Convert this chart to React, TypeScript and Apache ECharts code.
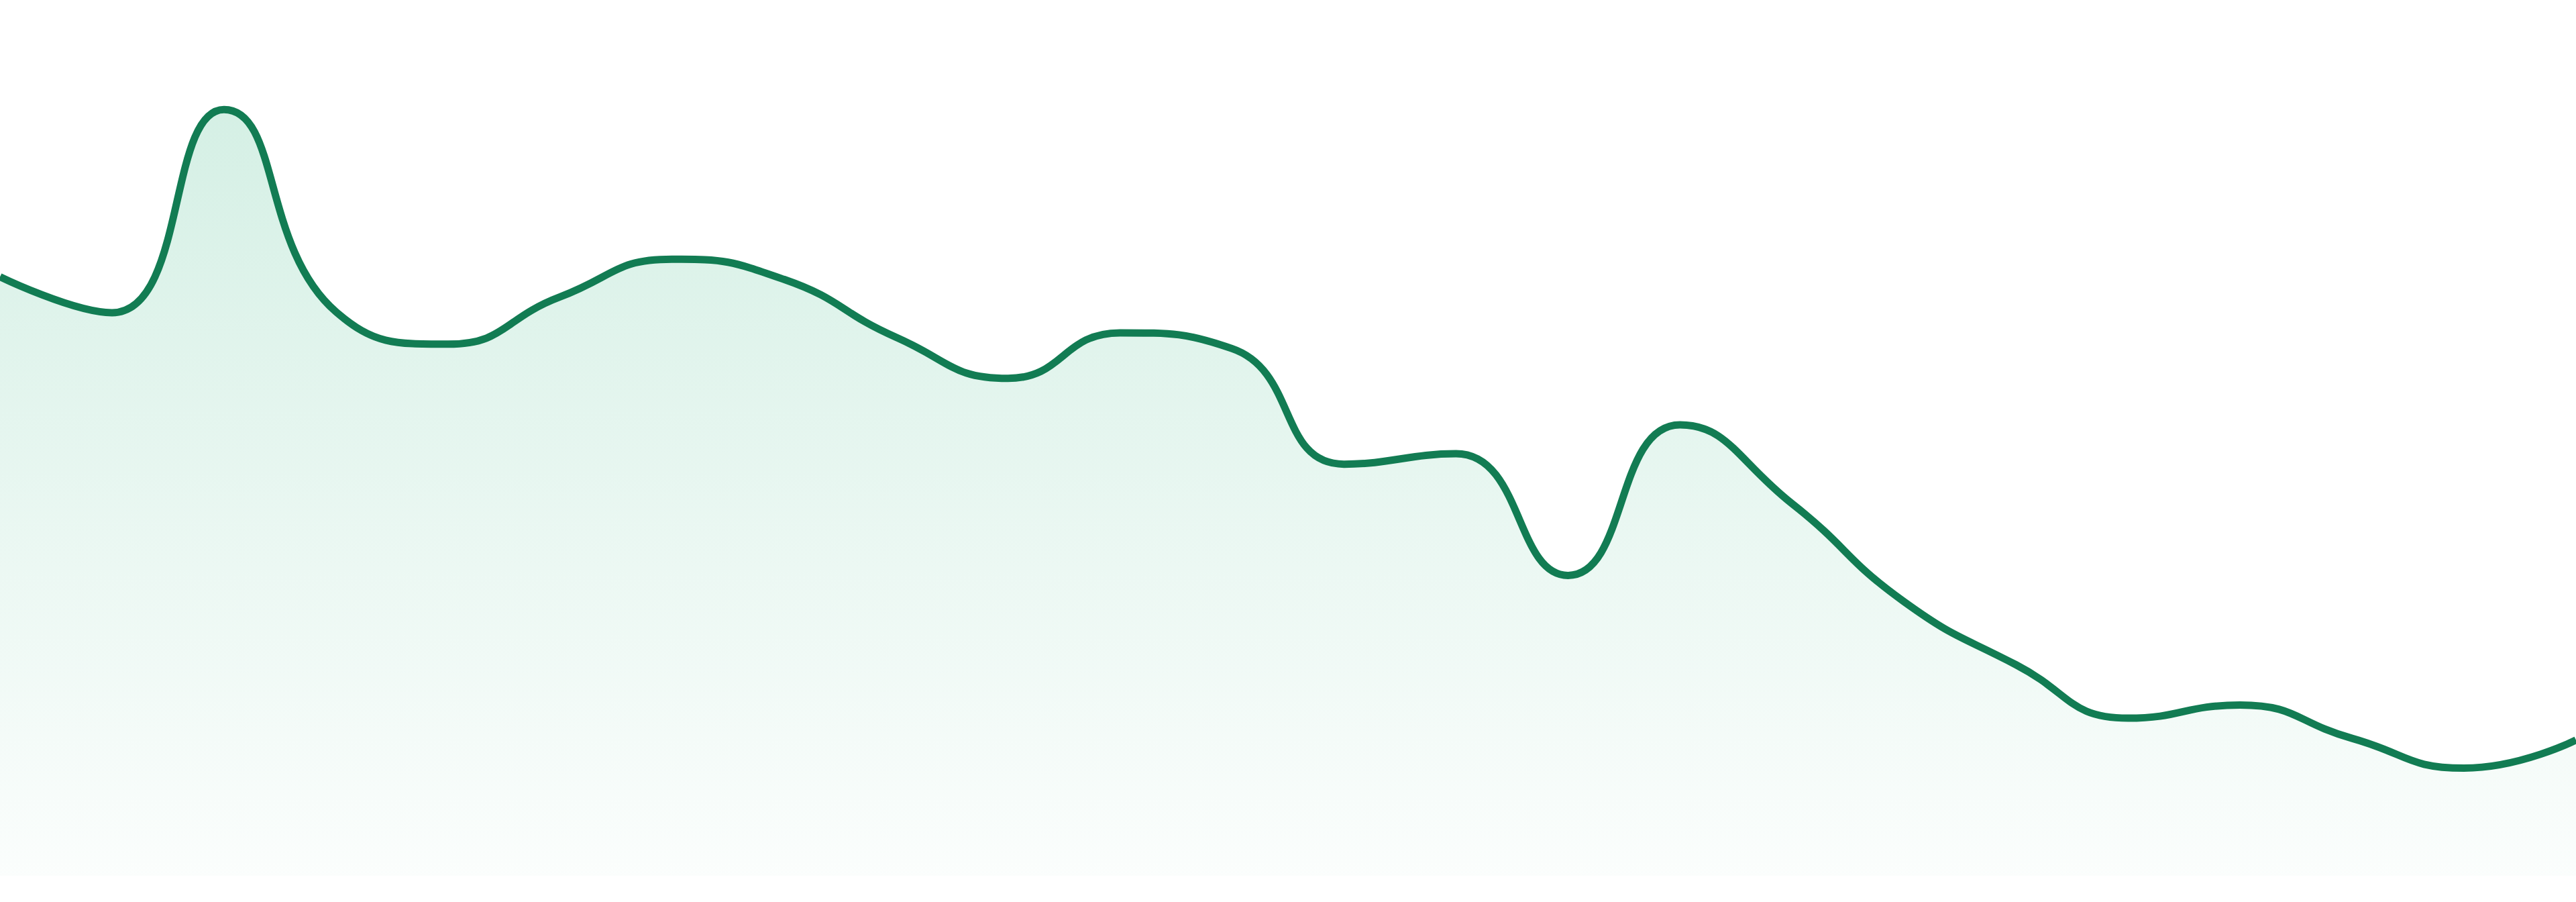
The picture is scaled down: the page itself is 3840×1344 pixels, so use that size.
import React, { useEffect, useRef } from 'react';
import * as echarts from 'echarts';

// categories (axis is hidden in the reference)
const days = [
  '1', '2', '3', '4', '5', '6', '7', '8', '9', '10', '11', '12',
  '13', '14', '15', '16', '17', '18', '19', '20', '21', '22', '23', '24',
];

// values
const values = [
  68.4, 64.3, 87.5, 64.4, 60.7, 66.1, 70.4, 68.1, 61.5, 56.8, 62.0, 60.2,
  47.0, 48.2, 34.3, 51.5, 42.5, 31.3, 24.1, 18.0, 19.5, 15.7, 12.3, 15.5,
];

const yMin = 0;
const yMax = 100;

const App: React.FC = () => {
  const chartRef = useRef<HTMLDivElement>(null);

  useEffect(() => {
    document.body.style.margin = '0';
    if (!chartRef.current) return;

    const chart = echarts.init(chartRef.current, undefined, { renderer: 'svg' });

    chart.setOption({
      animation: false,
      backgroundColor: '#ffffff',
      grid: { left: 0, right: 0, top: 0, bottom: 39 },
      xAxis: {
        type: 'category',
        data: days,
        boundaryGap: false,
        show: false,
      },
      yAxis: {
        type: 'value',
        min: yMin,
        max: yMax,
        show: false,
      },
      series: [
        {
          type: 'line',
          data: values,
          smooth: true,
          showSymbol: false,
          lineStyle: { width: 11, color: '#127c53' },
          areaStyle: {
            color: {
              type: 'linear',
              x: 0,
              y: 0,
              x2: 0,
              y2: 1,
              colorStops: [
                { offset: 0, color: 'rgba(62,185,135,0.31)' },
                { offset: 1, color: 'rgba(62,185,135,0.03)' },
              ],
            },
          },
        },
      ],
    });

    return () => {
      chart.dispose();
    };
  }, []);

  return <div ref={chartRef} style={{ width: '3840px', height: '1344px' }} />;
};

export default App;
